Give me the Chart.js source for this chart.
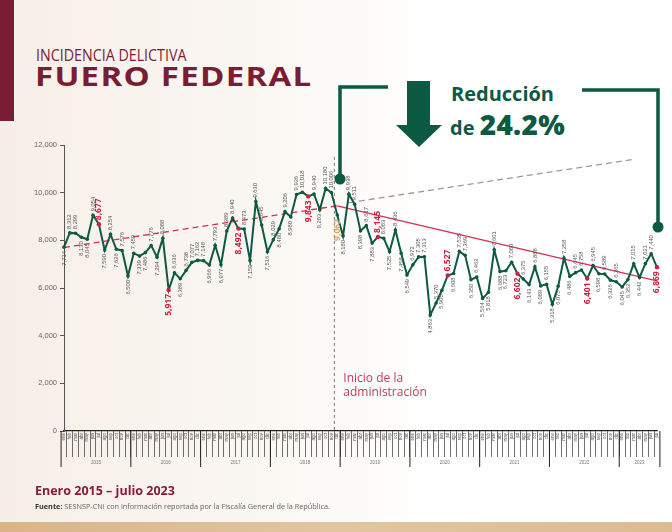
<!DOCTYPE html>
<html>
<head>
<meta charset="utf-8">
<script src="https://cdn.jsdelivr.net/npm/chart.js@4.4.1/dist/chart.umd.min.js"></script>
<style>
  html, body { margin: 0; padding: 0; }
  body {
    width: 672px; height: 532px; overflow: hidden; position: relative;
    font-family: "Open Sans", "Noto Sans", sans-serif;
    background: linear-gradient(90deg, #f6efe7 0%, #faf6f1 35%, #ffffff 65%, #ffffff 100%);
  }
  #wrap { position: absolute; left: 0; top: 0; width: 672px; height: 532px; }
  .bar { position: absolute; left: 0; top: 0; width: 14px; height: 121px; background: #7a1c33; }
  .t1 { position: absolute; left: 36px; top: 44px; font-size: 15.5px; color: #7a1c33; white-space: nowrap; transform: scaleX(0.92); transform-origin: left top; }
  .t2 { position: absolute; left: 35px; top: 58px; font-size: 26px; font-weight: 700; color: #7a1c33; letter-spacing: 1px; white-space: nowrap; transform: scaleX(1.27); transform-origin: left top; }
  .red1 { position: absolute; left: 451px; top: 80px; font-size: 20px; font-weight: 700; color: #0d5a43; white-space: nowrap; }
  .red2 { position: absolute; left: 450px; top: 105px; font-size: 20px; font-weight: 700; color: #0d5a43; white-space: nowrap; }
  .red2 b { font-size: 28px; letter-spacing: 0.3px; }
  .per { position: absolute; left: 35px; top: 482px; font-size: 12.5px; font-weight: 700; color: #861c39; white-space: nowrap; }
  .src { position: absolute; left: 35px; top: 501px; font-size: 7.3px; color: #666; white-space: nowrap; }
  .src b { color: #333; }
  .band { position: absolute; left: 0; top: 522px; width: 672px; height: 10px; background: linear-gradient(90deg, #d9b487, #e2c6a0 50%, #dcbb90); }
  svg { position: absolute; left: 0; top: 0; }
</style>
</head>
<body>
<div class="bar"></div>
<div class="t1">INCIDENCIA DELICTIVA</div>
<div class="t2">FUERO FEDERAL</div>
<div class="red1">Reducción</div>
<div class="red2">de <b>24.2%</b></div>
<div id="wrap"><canvas id="chart"></canvas></div>
<svg width="672" height="532">
  <polyline points="388,87 340,87 340,179" fill="none" stroke="#0d5a43" stroke-width="3.5"/>
  <circle cx="340" cy="179" r="5.5" fill="#0d5a43"/>
  <polyline points="582,90 658,90 658,227" fill="none" stroke="#0d5a43" stroke-width="3.5"/>
  <circle cx="658" cy="227" r="5.5" fill="#0d5a43"/>
  <polygon points="407,81 430,81 430,125 442,125 419,147 396,125 407,125" fill="#0d5a43"/>
</svg>
<div class="per">Enero 2015 – julio 2023</div>
<div class="src"><b>Fuente:</b> SESNSP-CNI con información reportada por la Fiscalía General de la República.</div>
<div class="band"></div>

<script>
// meses y años del eje x
const monthNames = ['ene', 'feb', 'mar', 'abr', 'may', 'jun', 'jul', 'ago', 'sep', 'oct', 'nov', 'dic'];
const years = [2015, 2016, 2017, 2018, 2019, 2020, 2021, 2022, 2023];

// incidencia mensual, fuero federal
const v2015 = [7714, 8312, 8299, 8130, 8045, 9054, 8677, 7590, 8254, 7626, 7576, 6500];
const v2016 = [7459, 7339, 7486, 7776, 7294, 8088, 5917, 6636, 6389, 6738, 7077, 7162];
const v2017 = [7148, 6966, 7793, 6977, 8389, 8940, 8492, 8473, 7150, 9630, 8645, 7516];
const v2018 = [8029, 8480, 9206, 8980, 9926, 10018, 9843, 9940, 9283, 10180, 10006, 9062];
const v2019 = [8180, 9938, 9511, 8398, 8617, 7883, 8145, 8083, 7525, 8436, 7458, 6549];
const v2020 = [6972, 7305, 7313, 4863, 5370, 5905, 6527, 6608, 7535, 7369, 6350, 6462];
const v2021 = [5564, 5818, 7601, 6688, 6723, 7080, 6602, 6375, 6143, 6888, 6089, 6155];
const v2022 = [5318, 6075, 7258, 6486, 6645, 6758, 6401, 6945, 6598, 6589, 6326, 6265];
const v2023 = [6045, 6352, 7015, 6442, 7021, 7440, 6869];

// tendencias (extremos)
const trendBeforeLabels = ['ene 2015', 'dic 2018'];
const trendBeforeValues = [7700, 9450];
const projectionLabels = ['feb 2019', 'mar 2023'];
const projectionValues = [9580, 11400];
const trendAfterLabels = ['dic 2018', 'jul 2023'];
const trendAfterValues = [9450, 6300];

const yTicks = [0, 2000, 4000, 6000, 8000, 10000, 12000];
const adminStartLabel = 'dic 2018';

const values = [].concat(v2015, v2016, v2017, v2018, v2019, v2020, v2021, v2022, v2023);
const labels = [];
years.forEach(y => monthNames.forEach(m => { if (labels.length < values.length) labels.push(m + ' ' + y); }));

const GREEN = '#0d5a43';
const RED = '#c8223f';
const GOLD = '#d6a55c';

function isJuly(i) { return i % 12 === 6 || i === values.length - 1; }
const adminIdx = labels.indexOf(adminStartLabel);

const pointColors = values.map((v, i) => isJuly(i) ? RED : GREEN);
const pointRadii = values.map((v, i) => isJuly(i) ? 2.2 : 1.8);

const fmt = v => v.toLocaleString('en-US');

// etiquetas de valor giradas sobre cada punto
const valueLabels = {
  id: 'valueLabels',
  afterDatasetsDraw(chart) {
    const ctx = chart.ctx;
    const meta = chart.getDatasetMeta(0);
    meta.data.forEach((pt, i) => {
      const v = values[i];
      const prev = i > 0 ? values[i - 1] : v;
      const next = i < values.length - 1 ? values[i + 1] : v;
      const above = v >= (prev + next) / 2 - 30;
      let color = '#555', font = '5.8px "Liberation Sans", sans-serif';
      if (isJuly(i)) { color = RED; font = 'bold 8.5px "Open Sans", sans-serif'; }
      if (i === adminIdx) { color = GOLD; font = 'bold 8.5px "Open Sans", sans-serif'; }
      ctx.save();
      ctx.translate(pt.x, pt.y);
      ctx.rotate(-Math.PI / 2);
      ctx.fillStyle = color;
      ctx.font = font;
      ctx.textBaseline = 'middle';
      if (above) { ctx.textAlign = 'left'; ctx.fillText(fmt(v), 4, 0); }
      else { ctx.textAlign = 'right'; ctx.fillText(fmt(v), -4, 0); }
      ctx.restore();
    });
  }
};

// línea de inicio de administración, separadores de año
const extras = {
  id: 'extras',
  beforeDatasetsDraw(chart) {
    const ctx = chart.ctx;
    const xs = chart.scales.x, ys = chart.scales.y;
    const step = xs.getPixelForValue(1) - xs.getPixelForValue(0);
    const lx = xs.getPixelForValue(adminIdx) - step / 2;
    ctx.save();
    ctx.strokeStyle = '#777';
    ctx.lineWidth = 1;
    ctx.setLineDash([3, 3]);
    ctx.beginPath();
    ctx.moveTo(lx, ys.getPixelForValue(11500));
    ctx.lineTo(lx, chart.chartArea.bottom);
    ctx.stroke();
    ctx.setLineDash([]);
    ctx.fillStyle = '#c23b5c';
    ctx.font = '12px "Open Sans", sans-serif';
    ctx.textAlign = 'left';
    ctx.textBaseline = 'middle';
    ctx.fillText('Inicio de la', lx + 9, ys.getPixelForValue(2200));
    ctx.fillText('administración', lx + 9, ys.getPixelForValue(1600));
    ctx.restore();
  },
  afterDraw(chart) {
    const ctx = chart.ctx;
    const xs = chart.scales.x;
    const step = xs.getPixelForValue(1) - xs.getPixelForValue(0);
    const bottom = chart.chartArea.bottom;
    ctx.save();
    ctx.strokeStyle = '#222';
    ctx.lineWidth = 1;
    ctx.fillStyle = '#777';
    ctx.font = '4.5px "Liberation Sans", sans-serif';
    ctx.textAlign = 'center';
    ctx.textBaseline = 'middle';
    years.forEach((y, k) => {
      const i0 = k * 12;
      const i1 = Math.min(i0 + 12, values.length);
      const xa = xs.getPixelForValue(i0) - step / 2;
      const xb = xs.getPixelForValue(i1 - 1) + step / 2;
      ctx.beginPath();
      ctx.moveTo(xa, bottom);
      ctx.lineTo(xa, bottom + 36);
      ctx.stroke();
      if (i1 === values.length) {
        ctx.beginPath();
        ctx.moveTo(xb, bottom);
        ctx.lineTo(xb, bottom + 36);
        ctx.stroke();
      }
      ctx.fillText(String(y), (xa + xb) / 2, bottom + 32);
    });
    ctx.restore();
  }
};

new Chart(document.getElementById('chart').getContext('2d'), {
  type: 'line',
  data: {
    labels: labels,
    datasets: [
      {
        data: values,
        borderColor: GREEN,
        borderWidth: 2,
        pointRadius: pointRadii,
        pointBackgroundColor: pointColors,
        pointBorderWidth: 0,
        tension: 0
      },
      {
        data: trendBeforeLabels.map((l, i) => ({ x: l, y: trendBeforeValues[i] })),
        borderColor: '#d4304f',
        borderWidth: 1.3,
        borderDash: [6, 4],
        pointRadius: 0
      },
      {
        data: trendAfterLabels.map((l, i) => ({ x: l, y: trendAfterValues[i] })),
        borderColor: '#d4304f',
        borderWidth: 1.3,
        pointRadius: 0
      },
      {
        data: projectionLabels.map((l, i) => ({ x: l, y: projectionValues[i] })),
        borderColor: '#9a9a9a',
        borderWidth: 1.3,
        borderDash: [6, 4],
        pointRadius: 0
      }
    ]
  },
  options: {
    responsive: true,
    maintainAspectRatio: false,
    animation: false,
    layout: { padding: { left: 28, right: 15, top: 145, bottom: 65 } },
    plugins: { legend: { display: false }, tooltip: { enabled: false } },
    scales: {
      x: {
        afterFit: s => { s.height = 36; },
        grid: { display: true, drawOnChartArea: false, drawTicks: true, tickLength: 26, color: '#333', lineWidth: 0.7, offset: true },
        border: { display: true, color: '#222', width: 1.2 },
        ticks: {
          autoSkip: false, minRotation: 90, maxRotation: 90, padding: -24,
          color: '#555',
          font: { size: 4.5, family: '"Liberation Sans", sans-serif' },
          callback: (v, i) => labels[i].split(' ')[0]
        }
      },
      y: {
        min: 0, max: 12000,
        afterFit: s => { s.width = 36; },
        afterBuildTicks: s => { s.ticks = yTicks.map(v => ({ value: v })); },
        grid: { display: true, drawOnChartArea: false, drawTicks: true, tickLength: 4, color: '#555' },
        border: { display: true, color: '#555', width: 1 },
        ticks: {
          color: '#666', padding: 3,
          font: { size: 7.5, family: '"Liberation Sans", sans-serif' },
          callback: v => fmt(v)
        }
      }
    }
  },
  plugins: [valueLabels, extras]
});
</script>
</body>
</html>
